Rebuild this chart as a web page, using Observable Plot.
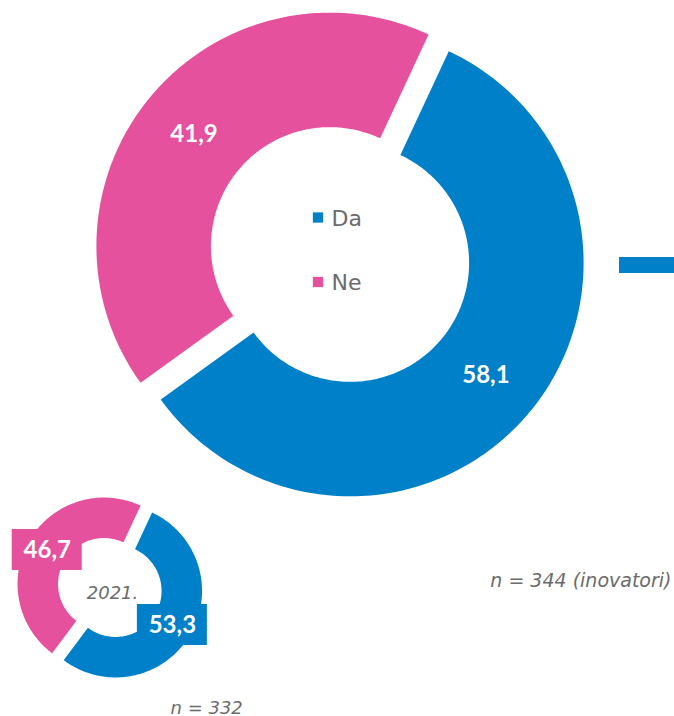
<!DOCTYPE html>
<html>
<head>
<meta charset="utf-8">
<script src="https://cdn.jsdelivr.net/npm/d3@7"></script>
<script src="https://cdn.jsdelivr.net/npm/@observablehq/plot@0.6"></script>
<style>
  html, body { margin: 0; padding: 0; background: #ffffff; }
  #chart svg { display: block; }
</style>
</head>
<body>
<div id="chart"></div>
<script>
// ---- data ----
const categories = ["Da", "Ne"];
const colors = ["#0080c8", "#e5519c"];
const values2023 = [58.1, 41.9];      // main chart (inovatori)
const values2021 = [53.3, 46.7];      // small chart, 2021.
const yearLabel = "2021.";
const noteMain = "n = 344 (inovatori)";
const noteSmall = "n = 332";

// ---- layout ----
const W = 674, H = 716;
const START = 25 * Math.PI / 180;
const donuts = [
  {values: values2023, cx: 339.5, cy: 254, outer: 233.5, inner: 119, explode: 13.1, boxes: false},
  {values: values2021, cx: 109.3, cy: 587, outer: 86.5, inner: 46, explode: 6.7, boxes: true}
];
const fmt = v => v.toFixed(1).replace(".", ",");

const sliceMarks = [];
const labels = [];
for (const dn of donuts) {
  const arcs = d3.pie().sort(null).startAngle(START).endAngle(START + 2 * Math.PI)(dn.values);
  arcs.forEach((a, i) => {
    const mid = (a.startAngle + a.endAngle) / 2;
    const ox = dn.cx + dn.explode * Math.sin(mid);
    const oy = dn.cy - dn.explode * Math.cos(mid);
    const n = 180;
    const pts = [];
    for (let k = 0; k <= n; k++) {
      const t = a.startAngle + (a.endAngle - a.startAngle) * k / n;
      pts.push({x: ox + dn.outer * Math.sin(t), y: oy - dn.outer * Math.cos(t)});
    }
    for (let k = n; k >= 0; k--) {
      const t = a.startAngle + (a.endAngle - a.startAngle) * k / n;
      pts.push({x: ox + dn.inner * Math.sin(t), y: oy - dn.inner * Math.cos(t)});
    }
    sliceMarks.push(Plot.line(pts, {x: "x", y: "y", fill: colors[i], stroke: "none", curve: "linear"}));
    const rc = (dn.outer + dn.inner) / 2;
    labels.push({
      x: ox + rc * Math.sin(mid),
      y: oy - rc * Math.cos(mid),
      text: fmt(a.data),
      color: colors[i],
      box: dn.boxes
    });
  });
}

const legend = categories.map((c, i) => ({cat: c, color: colors[i], y: 217 + i * 64.5}));

const chart = Plot.plot({
  width: W,
  height: H,
  margin: 0,
  x: {domain: [0, W], range: [0, W], axis: null},
  y: {domain: [0, H], range: [0, H], axis: null},
  color: {type: "identity"},
  marks: [
    ...sliceMarks,
    // right-side blue bar
    Plot.rect([0], {x1: () => 619, x2: () => W, y1: () => 257, y2: () => 273, fill: colors[0]}),
    // label boxes (small donut)
    Plot.rect(labels.filter(d => d.box), {
      x1: d => d.x - 35, x2: d => d.x + 35, y1: d => d.y - 20.5, y2: d => d.y + 20.5, fill: "color"
    }),
    Plot.text(labels, {
      x: "x", y: "y", text: "text", fill: "white",
      fontFamily: "Lato", fontWeight: "bold", fontSize: 24
    }),
    // legend inside main donut
    Plot.dot(legend, {x: () => 317.5, y: "y", symbol: "square", r: 5.8, fill: "color", stroke: "none"}),
    Plot.text(legend, {
      x: () => 331, y: d => d.y + 8, text: "cat", textAnchor: "start", lineAnchor: "bottom",
      fill: "#6b6b6b", fontFamily: "DejaVu Sans", fontSize: 22
    }),
    // notes
    Plot.text([yearLabel], {
      x: () => 112, y: () => 598, text: d => d, lineAnchor: "bottom",
      fill: "#6b6b6b", fontFamily: "DejaVu Sans", fontStyle: "italic", fontSize: 18
    }),
    Plot.text([noteMain], {
      x: () => 671, y: () => 586, text: d => d, textAnchor: "end", lineAnchor: "bottom",
      fill: "#6b6b6b", fontFamily: "DejaVu Sans", fontStyle: "italic", fontSize: 19
    }),
    Plot.text([noteSmall], {
      x: () => 170, y: () => 713, text: d => d, textAnchor: "start", lineAnchor: "bottom",
      fill: "#6b6b6b", fontFamily: "DejaVu Sans", fontStyle: "italic", fontSize: 18
    })
  ]
});
document.getElementById("chart").appendChild(chart);
</script>
</body>
</html>
